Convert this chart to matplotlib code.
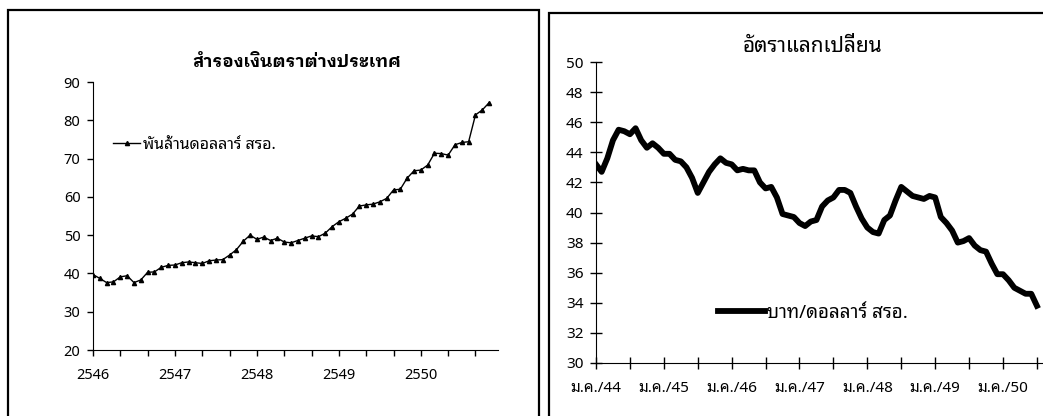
import numpy as np
import matplotlib
matplotlib.use('Agg')
import matplotlib.pyplot as plt
from matplotlib.patches import Rectangle

plt.rcParams['font.family'] = ['Noto Sans Thai Looped', 'DejaVu Sans']

# reserves, billion USD, monthly from ม.ค. 2546
reserves = [39.7, 38.7, 37.6, 37.8, 39.1, 39.4, 37.6, 38.3, 40.3, 40.4,
            41.6, 42.1, 42.2, 42.8, 43.0, 42.8, 42.6, 43.3, 43.5, 43.6,
            44.8, 46.2, 48.4, 50.0, 48.9, 49.5, 48.6, 49.2, 48.2, 48.0,
            48.6, 49.2, 49.8, 49.6, 50.5, 52.2, 53.5, 54.4, 55.5, 57.6,
            57.9, 58.1, 58.7, 59.6, 61.8, 62.0, 64.9, 66.8, 67.0, 68.3,
            71.4, 71.3, 70.9, 73.6, 74.2, 74.4, 81.4, 82.7, 84.6]
reserve_years = ['2546', '2547', '2548', '2549', '2550']
reserve_label = 'พันล้านดอลลาร์ สรอ.'
reserve_title = 'สำรองเงินตราต่างประเทศ'

# baht per USD, monthly from ม.ค./44
fx_rate = [43.2, 42.7, 43.6, 44.8, 45.5, 45.4, 45.2, 45.6, 44.8, 44.3,
           44.6, 44.3, 43.9, 43.9, 43.5, 43.4, 43.0, 42.3, 41.3, 42.0,
           42.7, 43.2, 43.6, 43.3, 43.2, 42.8, 42.9, 42.8, 42.8, 42.0,
           41.6, 41.7, 41.0, 39.9, 39.8, 39.7, 39.3, 39.1, 39.4, 39.5,
           40.4, 40.8, 41.0, 41.5, 41.5, 41.3, 40.4, 39.6, 39.0, 38.7,
           38.6, 39.5, 39.8, 40.8, 41.7, 41.4, 41.1, 41.0, 40.9, 41.1,
           41.0, 39.7, 39.3, 38.8, 38.0, 38.1, 38.3, 37.8, 37.5, 37.4,
           36.6, 35.9, 35.9, 35.5, 35.0, 34.8, 34.6, 34.6, 33.8]
fx_years = ['ม.ค./44', 'ม.ค./45', 'ม.ค./46', 'ม.ค./47', 'ม.ค./48', 'ม.ค./49', 'ม.ค./50']
fx_label = 'บาท/ดอลลาร์ สรอ.'
fx_title = 'อัตราแลกเปลี่ยน'

W, H = 1043, 416
fig = plt.figure(figsize=(W / 100, H / 100), dpi=100)

def px_box(x0, y0, x1, y1):
    # pixel box (top-left origin) -> figure fraction [l, b, w, h]
    return [x0 / W, 1 - y1 / H, (x1 - x0) / W, (y1 - y0) / H]

# panel frames
fig.patches.append(Rectangle((8 / W, -0.01), (539 - 8) / W, 1 - 10 / H + 0.01,
                             transform=fig.transFigure, fill=False, lw=1.6, ec='black'))
fig.patches.append(Rectangle((549 / W, -0.01), 0.5, 1 - 13 / H + 0.01,
                             transform=fig.transFigure, fill=False, lw=1.6, ec='black'))

# left chart
ax1 = fig.add_axes(px_box(93, 82, 498, 350))
x1 = np.arange(len(reserves))
ax1.plot(x1, reserves, '-^', color='black', lw=1.0, ms=3.0, label=reserve_label)
ax1.set_xlim(0, 59.3)
ax1.set_ylim(20, 90)
ax1.set_yticks(range(20, 91, 10))
ax1.set_xticks(range(0, 57, 4), minor=True)
ax1.set_xticks(range(0, 49, 12))
ax1.set_xticklabels(reserve_years)
ax1.tick_params(axis='both', which='both', direction='out', length=4, width=1, labelsize=10.5)
ax1.tick_params(axis='x', pad=9)
ax1.tick_params(axis='y', pad=5)
for s in ['top', 'right']:
    ax1.spines[s].set_visible(False)
ax1.legend(loc='center left', bbox_to_anchor=(0.05, 0.765), frameon=False,
           handlelength=1.7, handletextpad=0.15, borderpad=0, borderaxespad=0, fontsize=11.5)
fig.text(297 / W, 1 - 62 / H, reserve_title, ha='center', va='center',
         fontsize=12.5, fontweight='bold',
         family=['IBM Plex Sans Thai Looped', 'Noto Sans Thai', 'DejaVu Sans'])

# right chart
ax2 = fig.add_axes(px_box(596, 62, 1042, 363))
x2 = np.arange(len(fx_rate))
ax2.plot(x2, fx_rate, '-', color='black', lw=4.2, solid_joinstyle='round', label=fx_label)
ax2.set_xlim(0, 78.9)
ax2.set_ylim(30, 50)
ax2.set_yticks(range(30, 51, 2))
ax2.set_xticks(range(0, 79, 6), minor=True)
ax2.set_xticks(range(0, 73, 12))
ax2.set_xticklabels(fx_years)
ax2.tick_params(axis='both', which='both', direction='inout', length=8, width=1, labelsize=11)
ax2.tick_params(axis='x', pad=9)
ax2.tick_params(axis='y', pad=5)
for s in ['top', 'right']:
    ax2.spines[s].set_visible(False)
ax2.legend(loc='center left', bbox_to_anchor=(0.274, 0.166), frameon=False,
           handlelength=2.5, handletextpad=0.1, borderpad=0, borderaxespad=0, fontsize=13.5)
fig.text(812 / W, 1 - 46 / H, fx_title, ha='center', va='center', fontsize=15)

fig.savefig('out.png', dpi=100)
